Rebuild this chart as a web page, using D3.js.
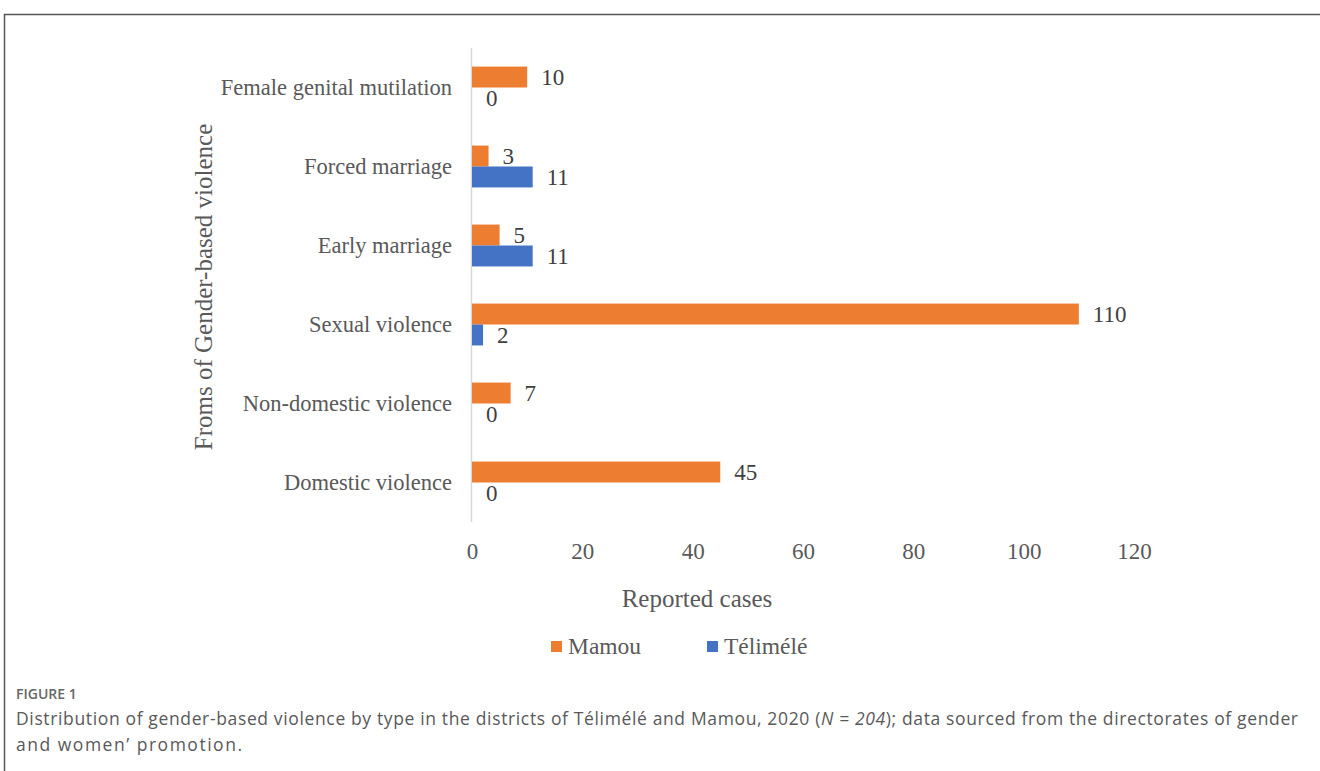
<!DOCTYPE html>
<html><head><meta charset="utf-8">
<script src="https://cdn.jsdelivr.net/npm/d3@7"></script>
<style>
html,body{margin:0;padding:0;background:#fff;}
svg{display:block;}
</style></head>
<body>
<svg id="chart" width="1320" height="771"></svg>
<script>
const categories = ["Female genital mutilation","Forced marriage","Early marriage","Sexual violence","Non-domestic violence","Domestic violence"];
const mamou = [10, 3, 5, 110, 7, 45];
const telimele = [0, 11, 11, 2, 0, 0];
const seriesNames = ["Mamou","Télimélé"];
const seriesColors = ["#ED7D31","#4472C4"];
const xTicks = [0,20,40,60,80,100,120];

const svg = d3.select("#chart");
const serif = "'Liberation Serif','Times New Roman',serif";
const textCol = "#595959";

// frame
svg.append("path").attr("d","M4.5,771 L4.5,14.5 L1320,14.5").attr("fill","none").attr("stroke","#555").attr("stroke-width",1.5);

const x = d3.scaleLinear().domain([0,120]).range([472,1134]);
const y = d3.scaleBand().domain(categories).range([48,522]).paddingInner(0.47).paddingOuter(0.235);
const ySub = d3.scaleBand().domain(seriesNames).range([0,y.bandwidth()]);

// y axis line
svg.append("line").attr("x1",471.5).attr("x2",471.5).attr("y1",48).attr("y2",522).attr("stroke","#d9d9d9").attr("stroke-width",1.5);

const rows = categories.map((c,i)=>({cat:c, vals:[{s:seriesNames[0],v:mamou[i],c:seriesColors[0]},{s:seriesNames[1],v:telimele[i],c:seriesColors[1]}]}));

const g = svg.selectAll("g.row").data(rows).enter().append("g").attr("transform",d=>`translate(0,${y(d.cat)})`);
g.selectAll("rect").data(d=>d.vals).enter().append("rect")
 .attr("x",x(0)).attr("y",d=>ySub(d.s)).attr("width",d=>x(d.v)-x(0)).attr("height",ySub.bandwidth()).attr("fill",d=>d.c);
g.selectAll("text.val").data(d=>d.vals).enter().append("text").attr("class","val")
 .attr("x",d=>x(d.v)+14).attr("y",d=>ySub(d.s)+ySub.bandwidth()/2).attr("dy","0.35em")
 .attr("font-family",serif).attr("font-size",23).attr("fill","#404040").text(d=>d.v);

// category labels
svg.selectAll("text.cat").data(categories).enter().append("text")
 .attr("x",452).attr("y",d=>y(d)+y.bandwidth()/2).attr("dy","0.35em").attr("text-anchor","end")
 .attr("font-family",serif).attr("font-size",22.5).attr("fill",textCol).text(d=>d);

// x tick labels
const xAxis = d3.axisBottom(x).tickValues(xTicks).tickSize(0).tickPadding(0);
const ax = svg.append("g").attr("transform","translate(0,551)").call(xAxis);
ax.select(".domain").remove();
ax.selectAll("text").attr("font-family",serif).attr("font-size",23).attr("fill",textCol).attr("dy","0.35em");

// axis titles
svg.append("text").attr("x",697).attr("y",598).attr("dy","0.35em").attr("text-anchor","middle")
 .attr("font-family",serif).attr("font-size",25).attr("fill",textCol).text("Reported cases");
svg.append("text").attr("transform","translate(203,287) rotate(-90)").attr("dy","0.35em").attr("text-anchor","middle")
 .attr("font-family",serif).attr("font-size",25).attr("fill",textCol).text("Froms of Gender-based violence");

// legend
const legX = [551,707];
seriesNames.forEach((s,i)=>{
  svg.append("rect").attr("x",legX[i]).attr("y",641).attr("width",11).attr("height",11).attr("fill",seriesColors[i]);
  svg.append("text").attr("x",legX[i]+17).attr("y",646).attr("dy","0.35em").attr("font-family",serif).attr("font-size",23.5).attr("fill",textCol).text(s);
});

// caption
const sans = "'Open Sans','Noto Sans',sans-serif";
svg.append("text").attr("x",16).attr("y",694).attr("dy","0.35em").attr("font-family",sans).attr("font-size",14).attr("font-weight",600).attr("fill","#666").text("FIGURE 1");
const cap = svg.append("text").attr("x",16).attr("y",719).attr("dy","0.35em").attr("font-family",sans).attr("font-size",17.5).attr("fill","#595959")
 .attr("textLength",1282).attr("lengthAdjust","spacing");
cap.append("tspan").text("Distribution of gender-based violence by type in the districts of Télimélé and Mamou, 2020 (");
cap.append("tspan").attr("font-style","italic").text("N = 204");
cap.append("tspan").text("); data sourced from the directorates of gender");
svg.append("text").attr("x",16).attr("y",745).attr("dy","0.35em").attr("font-family",sans).attr("font-size",17.5).attr("fill","#595959")
 .attr("textLength",226).attr("lengthAdjust","spacing").text("and women\u2019 promotion.");
</script>
</body></html>
